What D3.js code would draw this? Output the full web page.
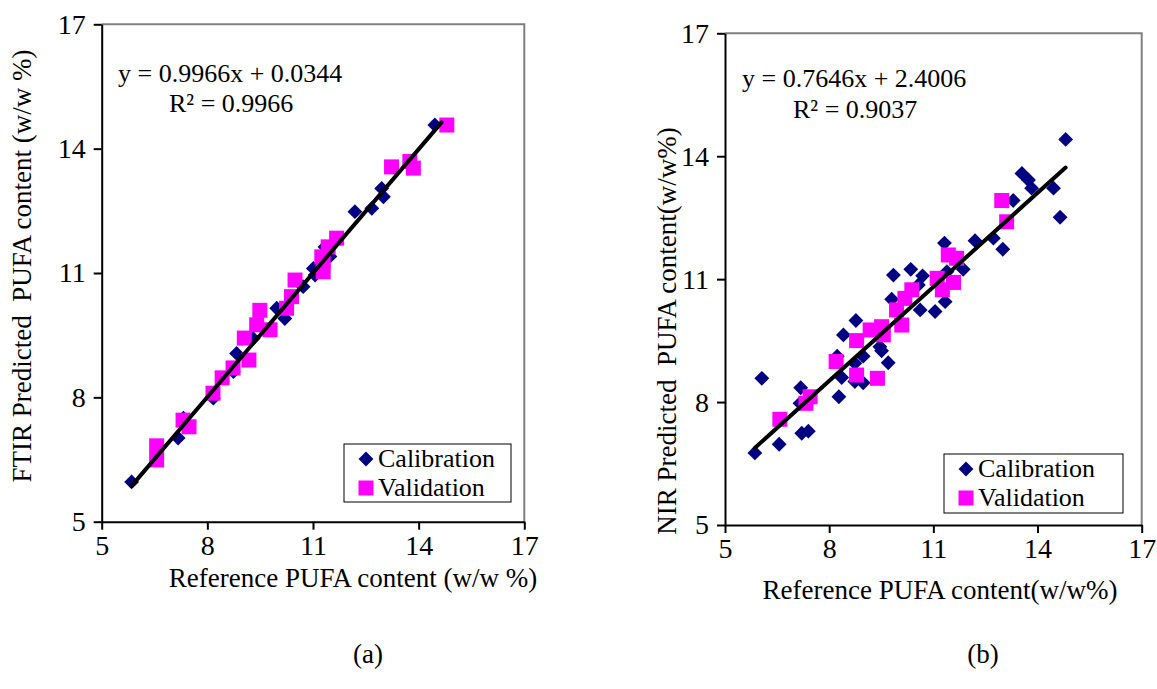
<!DOCTYPE html>
<html>
<head>
<meta charset="utf-8">
<script src="https://cdn.jsdelivr.net/npm/d3@7"></script>
<style>
  body { margin: 0; background: #fff; }
  svg { display: block; }
  text { font-family: "Liberation Serif", "Times New Roman", serif; fill: #000; white-space: pre; }
</style>
</head>
<body>
<div id="chart"></div>
<script>

// ticks shared by both panels
const tickValues = [5, 8, 11, 14, 17];
const seriesNames = ["Calibration", "Validation"];

// (a) FTIR
const ftirCalX = [5.85, 7.17, 7.32, 8.17, 8.74, 8.83, 9.30, 9.97, 10.20, 10.72, 11.01, 11.06, 11.48, 11.34, 12.19, 12.67, 12.95, 13.00, 14.46];
const ftirCalY = [5.96, 7.02, 7.50, 7.98, 8.62, 9.06, 9.42, 10.15, 9.90, 10.67, 11.11, 10.95, 11.40, 11.63, 12.48, 12.56, 13.04, 12.84, 14.57];
const ftirValX = [6.56, 6.56, 7.31, 7.48, 8.16, 8.42, 8.73, 9.18, 9.05, 9.40, 9.49, 9.78, 10.25, 10.39, 10.49, 11.29, 11.29, 11.25, 11.43, 11.67, 13.23, 13.75, 13.85, 14.80];
const ftirValY = [6.83, 6.49, 7.45, 7.29, 8.10, 8.47, 8.71, 8.90, 9.43, 9.75, 10.10, 9.63, 10.15, 10.43, 10.83, 11.03, 11.31, 11.39, 11.63, 11.84, 13.56, 13.69, 13.53, 14.57];
const ftirFit = [0.9966, 0.0344, 0.9966];   // slope, intercept, R²
const ftirFitRange = [5.85, 14.65];

// (b) NIR
const nirCalX = [5.86, 6.06, 6.56, 7.18, 7.16, 7.21, 7.40, 8.28, 8.23, 8.41, 8.77, 8.74, 8.74, 8.98, 8.36, 8.98, 9.46, 9.51, 9.70, 9.85, 9.80, 10.35, 10.69, 10.62, 11.05, 11.34, 11.39, 11.86, 10.57, 11.32, 12.20, 12.73, 13.00, 13.30, 13.55, 13.74, 13.83, 14.46, 14.65, 14.81];
const nirCalY = [6.76, 8.58, 6.97, 8.35, 7.97, 7.24, 7.29, 8.13, 9.12, 9.64, 9.99, 8.95, 8.50, 8.47, 8.60, 9.12, 9.35, 9.25, 8.96, 11.10, 10.51, 11.24, 11.08, 10.25, 10.21, 10.45, 11.18, 11.24, 10.86, 11.88, 11.94, 12.00, 11.73, 12.92, 13.58, 13.42, 13.22, 13.22, 12.51, 14.41];
const nirValX = [6.58, 7.33, 7.45, 8.20, 8.79, 9.39, 8.79, 9.18, 9.51, 9.56, 10.09, 9.94, 10.18, 10.38, 11.11, 11.26, 11.58, 11.43, 11.67, 12.97, 13.11];
const nirValY = [7.58, 7.97, 8.13, 8.99, 8.66, 8.58, 9.50, 9.76, 9.84, 9.64, 9.88, 10.25, 10.53, 10.74, 11.02, 10.74, 10.92, 11.59, 11.51, 12.92, 12.40];
const nirFit = [0.7646, 2.4006, 0.9037];
const nirFitRange = [5.86, 14.81];

const W = 1157, H = 689;
const svg = d3.select("#chart").append("svg")
  .attr("width", W)
  .attr("height", H);

const zip = (xs, ys) => xs.map((x, i) => ({x: x, y: ys[i]}));

const panels = [
  {
    cal: zip(ftirCalX, ftirCalY), val: zip(ftirValX, ftirValY), fit: ftirFit, fitRange: ftirFitRange,
    box: {left: 101.7, right: 524.3, top: 24.3, bottom: 521.7},
    eq: {x: 118, y: 82, rx: 169, ry: 112},
    legend: {x: 344, y: 444, w: 167, h: 58},
    xTitle: "Reference PUFA content (w/w %)", xTitlePos: [353, 587],
    yTitle: "FTIR Predicted  PUFA content (w/w %)", yTitlePos: [31, 266],
    tag: "(a)", tagPos: [368, 663]
  },
  {
    cal: zip(nirCalX, nirCalY), val: zip(nirValX, nirValY), fit: nirFit, fitRange: nirFitRange,
    box: {left: 725, right: 1141.7, top: 33.3, bottom: 525},
    eq: {x: 742, y: 87, rx: 793, ry: 118},
    legend: {x: 944, y: 454, w: 179, h: 59},
    xTitle: "Reference PUFA content(w/w%)", xTitlePos: [940, 599],
    yTitle: "NIR Predicted  PUFA content(w/w%)", yTitlePos: [676, 331],
    tag: "(b)", tagPos: [983, 663]
  }
];

const diamond = d3.symbol().type(d3.symbolSquare).size(110);
const square = d3.symbol().type(d3.symbolSquare).size(225);

panels.forEach(p => {
  const b = p.box;
  const x = d3.scaleLinear().domain([5, 17]).range([b.left, b.right]);
  const y = d3.scaleLinear().domain([5, 17]).range([b.bottom, b.top]);
  const g = svg.append("g");

  // plot frame: grey top/right
  g.append("path")
    .attr("d", `M${b.left},${b.top}H${b.right}V${b.bottom}`)
    .attr("fill", "none")
    .attr("stroke", "#808080")
    .attr("stroke-width", 2);

  // axes
  g.append("g")
    .attr("transform", `translate(0,${b.bottom})`)
    .call(d3.axisBottom(x).tickValues(tickValues).tickSizeInner(8).tickSizeOuter(0).tickPadding(5))
    .call(a => a.selectAll("path,line").attr("stroke", "#000").attr("stroke-width", 2))
    .call(a => a.selectAll("text").attr("font-size", 28).attr("font-family", "Liberation Serif"));

  g.append("g")
    .attr("transform", `translate(${b.left},0)`)
    .call(d3.axisLeft(y).tickValues(tickValues).tickSizeInner(8).tickSizeOuter(0).tickPadding(8))
    .call(a => a.selectAll("path,line").attr("stroke", "#000").attr("stroke-width", 2))
    .call(a => a.selectAll("text").attr("font-size", 28).attr("font-family", "Liberation Serif"));

  // calibration diamonds
  g.append("g").selectAll("path")
    .data(p.cal)
    .enter().append("path")
      .attr("d", diamond)
      .attr("transform", d => `translate(${x(d.x)},${y(d.y)}) rotate(45)`)
      .attr("fill", "#000080");

  // validation squares
  g.append("g").selectAll("path")
    .data(p.val)
    .enter().append("path")
      .attr("d", square)
      .attr("transform", d => `translate(${x(d.x)},${y(d.y)})`)
      .attr("fill", "#ff00ff");

  // linear trend line
  const line = d3.line().x(d => x(d)).y(d => y(p.fit[0] * d + p.fit[1]));
  g.append("path")
    .attr("d", line(p.fitRange))
    .attr("fill", "none")
    .attr("stroke", "#000")
    .attr("stroke-width", 4)
    .attr("stroke-linecap", "round");

  // equation
  g.append("text")
    .attr("x", p.eq.x).attr("y", p.eq.y)
    .attr("font-size", 26)
    .text(`y = ${p.fit[0].toFixed(4)}x + ${p.fit[1].toFixed(4)}`);
  g.append("text")
    .attr("x", p.eq.rx).attr("y", p.eq.ry)
    .attr("font-size", 26)
    .text(`R² = ${p.fit[2].toFixed(4)}`);

  // legend
  const L = p.legend;
  const lg = g.append("g").attr("transform", `translate(${L.x},${L.y})`);
  lg.append("rect")
    .attr("width", L.w).attr("height", L.h)
    .attr("fill", "#fff").attr("stroke", "#000").attr("stroke-width", 1);
  seriesNames.forEach((name, i) => {
    const cy = 15 + i * 29;
    lg.append("path")
      .attr("d", i === 0 ? diamond : square)
      .attr("transform", `translate(22,${cy})` + (i === 0 ? " rotate(45)" : ""))
      .attr("fill", i === 0 ? "#000080" : "#ff00ff");
    lg.append("text")
      .attr("x", 34).attr("y", cy + 8)
      .attr("font-size", 26)
      .text(name);
  });

  // axis titles
  g.append("text")
    .attr("x", p.xTitlePos[0]).attr("y", p.xTitlePos[1])
    .attr("text-anchor", "middle")
    .attr("font-size", 27)
    .text(p.xTitle);
  g.append("text")
    .attr("transform", `translate(${p.yTitlePos[0]},${p.yTitlePos[1]}) rotate(-90)`)
    .attr("text-anchor", "middle")
    .attr("font-size", 27)
    .text(p.yTitle);

  g.append("text")
    .attr("x", p.tagPos[0]).attr("y", p.tagPos[1])
    .attr("text-anchor", "middle")
    .attr("font-size", 27)
    .text(p.tag);
});

</script>
</body>
</html>
